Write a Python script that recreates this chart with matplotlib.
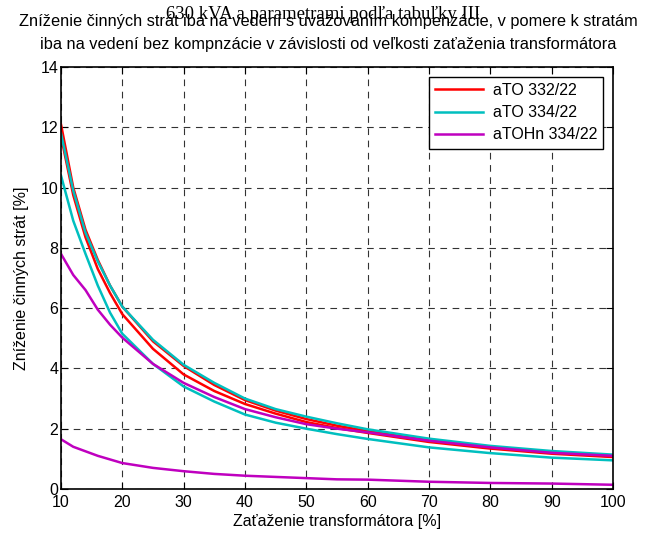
import matplotlib
matplotlib.use("Agg")
import matplotlib.pyplot as plt

# zataženie transformátora [%]
load = [10, 12, 14, 16, 18, 20, 25, 30, 35, 40, 45, 50, 55, 60, 70, 80, 90, 100]

# aTO 332/22 (dve krivky)
ato332_hi = [12.1, 10.0, 8.6, 7.6, 6.75, 6.05, 4.9, 4.08, 3.45, 2.95, 2.6, 2.32, 2.1, 1.92, 1.62, 1.38, 1.2, 1.08]
ato332_lo = [11.7, 9.75, 8.35, 7.3, 6.5, 5.8, 4.65, 3.8, 3.25, 2.82, 2.5, 2.22, 2.02, 1.86, 1.56, 1.34, 1.17, 1.06]
# aTO 334/22
ato334_hi = [11.8, 9.9, 8.5, 7.55, 6.75, 6.05, 4.95, 4.12, 3.52, 3.0, 2.65, 2.4, 2.18, 1.98, 1.67, 1.43, 1.26, 1.14]
ato334_lo = [10.4, 8.9, 7.8, 6.75, 5.85, 5.15, 4.15, 3.4, 2.9, 2.47, 2.2, 2.0, 1.82, 1.66, 1.38, 1.19, 1.04, 0.95]
# aTOHn 334/22
atohn_hi = [7.8, 7.1, 6.6, 5.95, 5.45, 5.02, 4.15, 3.52, 3.05, 2.65, 2.38, 2.15, 2.0, 1.88, 1.6, 1.38, 1.2, 1.1]
atohn_lo = [1.65, 1.4, 1.25, 1.1, 0.98, 0.86, 0.7, 0.59, 0.5, 0.44, 0.4, 0.36, 0.32, 0.31, 0.24, 0.2, 0.18, 0.14]

labels = ["aTO 332/22", "aTO 334/22", "aTOHn 334/22"]
colors = ["#ff0000", "#00bfbf", "#bf00bf"]

plt.rcParams["font.family"] = "Liberation Sans"

fig = plt.figure(figsize=(6.46, 5.34), dpi=100)
ax = fig.add_axes([0.0944, 0.0843, 0.8545, 0.7902])

ax.plot(load, ato332_hi, color=colors[0], lw=1.8, label=labels[0])
ax.plot(load, ato332_lo, color=colors[0], lw=1.8)
ax.plot(load, ato334_hi, color=colors[1], lw=1.8, label=labels[1])
ax.plot(load, ato334_lo, color=colors[1], lw=1.8)
ax.plot(load, atohn_hi, color=colors[2], lw=1.8, label=labels[2])
ax.plot(load, atohn_lo, color=colors[2], lw=1.8)

ax.set_xlim(10, 100)
ax.set_ylim(0, 14)
ax.set_xticks(range(10, 101, 10))
ax.set_yticks(range(0, 15, 2))
ax.grid(True, color="black", linestyle=(0, (6, 5)), linewidth=0.8, alpha=0.8)
ax.tick_params(direction="in", top=True, right=True, labelsize=11.5, length=5, pad=2)
ax.tick_params(axis="x", pad=4)
for s in ax.spines.values():
    s.set_linewidth(1.2)

ax.set_xlabel("Zaťaženie transformátora [%]", fontsize=11.5, labelpad=3)
ax.set_ylabel("Zníženie činných strát [%]", fontsize=11.5, labelpad=8)

fig.text(0.5, 0.972, "630 kVA a parametrami podľa tabuľky III", ha="center", va="center",
         family="Liberation Serif", fontsize=13.5)
fig.text(0.508, 0.960, "Zníženie činných strát iba na vedení s uvažovaním kompenzácie, v pomere k stratám",
         ha="center", va="center", fontsize=11.8)
fig.text(0.508, 0.916, "iba na vedení bez kompnzácie v závislosti od veľkosti zaťaženia transformátora",
         ha="center", va="center", fontsize=11.8)

leg = ax.legend(loc="upper right", fontsize=11.5, fancybox=False, edgecolor="black",
                framealpha=1, borderaxespad=0.6, handlelength=3.0, handletextpad=0.6,
                labelspacing=0.45)
leg.get_frame().set_linewidth(1.0)

fig.savefig("out.png", dpi=100)
